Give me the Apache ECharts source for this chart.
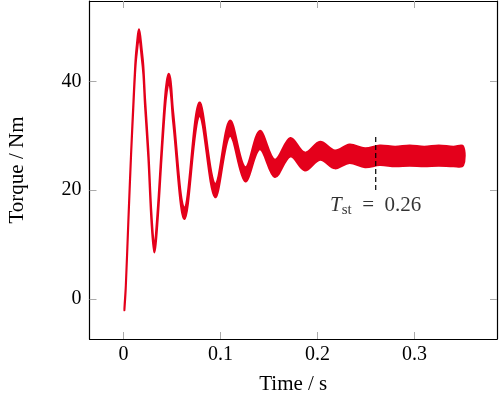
<!DOCTYPE html>
<html>
<head>
<meta charset="utf-8">
<title>Torque</title>
<script src="https://cdn.jsdelivr.net/npm/echarts@6.0.0/dist/echarts.min.js"></script>
<style>
  html, body { margin: 0; padding: 0; background: #fff; }
  #main { width: 499px; height: 400px; }
</style>
</head>
<body>
<div id="main"></div>
<script>
// torque band (upper / lower edge of the ripple)
var timeS = [0.0010, 0.0024, 0.0051, 0.0079, 0.0103, 0.0120, 0.0133, 0.0161, 0.0189, 0.0205,
    0.0223, 0.0256, 0.0290, 0.0318, 0.0349, 0.0393, 0.0428, 0.0446, 0.0466, 0.0487,
    0.0512, 0.0630, 0.0782, 0.0944, 0.1097, 0.1255, 0.1405, 0.1560, 0.1720, 0.1870,
    0.2027, 0.2180, 0.2330, 0.2490, 0.2640, 0.2800, 0.2950, 0.3100, 0.3250, 0.3400, 0.3500];
var upperNm = [-1.6, 2.5, 14.9, 27.2, 36.5, 42.7, 45.9, 49.6, 45.8, 42.9,
    36.8, 27.6, 15.3, 10.0, 15.4, 27.7, 37.0, 40.0, 41.4, 40.0,
    34.5, 16.7, 36.1, 21.1, 32.8, 24.2, 30.9, 25.6, 29.6, 26.9,
    28.9, 27.3, 28.4, 27.7, 28.2, 28.0, 28.2, 28.0, 28.2, 28.0, 28.1];
var lowerNm = [-2.1, 1.9, 14.1, 26.4, 35.5, 41.5, 44.5, 47.9, 44.2, 41.3,
    35.2, 26.0, 13.7, 8.5, 13.6, 25.9, 35.0, 38.0, 39.6, 38.0,
    32.5, 14.7, 33.7, 18.7, 30.0, 21.6, 27.5, 22.4, 26.2, 23.6,
    25.6, 24.0, 25.0, 24.2, 24.6, 24.4, 24.5, 24.4, 24.5, 24.4, 24.5];

// settling time marker
var stTime = 0.26;
var stRange = [20, 30];

var xTicks = [0, 0.1, 0.2, 0.3];
var yTicks = [0, 20, 40];

var red = '#e4001b';
var font = 'Liberation Serif';

var myChart = echarts.init(document.getElementById('main'));

function axisBase(ticks) {
    return {
        axisLine: { show: true, onZero: false, lineStyle: { color: '#000', width: 1.2 } },
        axisTick: { show: true, inside: true, length: 7, customValues: ticks, lineStyle: { color: '#aaa', width: 1 } },
        splitLine: { show: false }
    };
}

var xBottom = axisBase(xTicks);
xBottom.type = 'value';
xBottom.position = 'bottom';
xBottom.min = -0.035;
xBottom.max = 0.385;
xBottom.name = 'Time / s';
xBottom.nameLocation = 'middle';
xBottom.nameGap = 35;
xBottom.nameTextStyle = { fontFamily: font, fontSize: 21, color: '#000' };
xBottom.axisLabel = { customValues: xTicks, margin: 6, fontFamily: font, fontSize: 20, color: '#000',
    formatter: function (v) { return String(v); } };

var xTop = axisBase(xTicks);
xTop.type = 'value';
xTop.position = 'top';
xTop.min = -0.035;
xTop.max = 0.385;
xTop.axisLabel = { show: false };

var yLeft = axisBase(yTicks);
yLeft.type = 'value';
yLeft.position = 'left';
yLeft.min = -7.4;
yLeft.max = 54.8;
yLeft.name = 'Torque / Nm';
yLeft.nameLocation = 'middle';
yLeft.nameGap = 62;
yLeft.nameTextStyle = { fontFamily: font, fontSize: 21, color: '#000' };
yLeft.axisLabel = { customValues: yTicks, margin: 8, fontFamily: font, fontSize: 20, color: '#000' };

var yRight = axisBase(yTicks);
yRight.type = 'value';
yRight.position = 'right';
yRight.min = -7.4;
yRight.max = 54.8;
yRight.axisLabel = { show: false };

option = {
    animation: false,
    backgroundColor: '#fff',
    grid: { left: 89.5, right: 2, top: 1, bottom: 61, containLabel: false, outerBoundsMode: 'none' },
    xAxis: [xBottom, xTop],
    yAxis: [yLeft, yRight],
    series: [{
        type: 'custom',
        xAxisIndex: 0,
        yAxisIndex: 0,
        clip: true,
        data: [[timeS[0], lowerNm[0]]],
        renderItem: function (params, api) {
            var pts = [];
            for (var i = 0; i < timeS.length; i++) {
                pts.push(api.coord([timeS[i], upperNm[i]]));
            }
            for (var j = timeS.length - 1; j >= 0; j--) {
                pts.push(api.coord([timeS[j], lowerNm[j]]));
            }
            return {
                type: 'polygon',
                shape: { points: pts, smooth: 0.35 },
                style: { fill: red, stroke: red, lineWidth: 2 }
            };
        },
        z: 2
    }, {
        type: 'line',
        xAxisIndex: 0,
        yAxisIndex: 0,
        symbol: 'none',
        data: [[stTime, stRange[0]], [stTime, stRange[1]]],
        lineStyle: { color: '#000', width: 1.2, type: [5, 3] },
        z: 3
    }, {
        type: 'scatter',
        xAxisIndex: 0,
        yAxisIndex: 0,
        symbolSize: 0,
        data: [[stTime, stRange[0]]],
        label: {
            show: true,
            position: 'bottom',
            distance: 3,
            formatter: '{i|T}{s|st}{n|\u2002=\u2002' + stTime + '}',
            rich: {
                i: { fontFamily: font, fontStyle: 'italic', fontSize: 21, lineHeight: 24, color: '#000' },
                s: { fontFamily: font, fontSize: 15, lineHeight: 14, verticalAlign: 'bottom', color: '#000' },
                n: { fontFamily: font, fontSize: 21, lineHeight: 24, color: '#000' }
            }
        },
        z: 4
    }]
};

myChart.setOption(option);
</script>
</body>
</html>
